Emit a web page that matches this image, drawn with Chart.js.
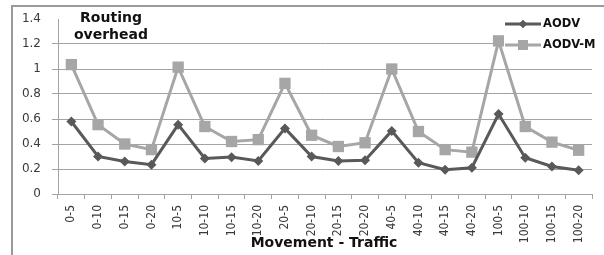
<!DOCTYPE html>
<html>
<head>
<meta charset="utf-8">
<script src="https://cdn.jsdelivr.net/npm/chart.js@4"></script>
<style>
  body { margin: 0; background: #fff; }
  canvas { display: block; }
</style>
</head>
<body>
<canvas id="grafico" width="604" height="255"></canvas>
<script>
// Categorias (Movement - Traffic)
const categorias = ['0-5', '0-10', '0-15', '0-20', '10-5', '10-10', '10-15', '10-20',
    '20-5', '20-10', '20-15', '20-20', '40-5', '40-10', '40-15', '40-20',
    '100-5', '100-10', '100-15', '100-20'];

const valoresAODV = [0.58, 0.30, 0.26, 0.235, 0.555, 0.285, 0.295, 0.265,
    0.525, 0.30, 0.265, 0.27, 0.505, 0.25, 0.195, 0.21,
    0.64, 0.29, 0.22, 0.19];

const valoresAODVM = [1.035, 0.555, 0.40, 0.355, 1.015, 0.54, 0.42, 0.435,
    0.885, 0.47, 0.38, 0.41, 1.0, 0.5, 0.355, 0.335,
    1.225, 0.54, 0.415, 0.35];

const ticksY = [0, 0.2, 0.4, 0.6, 0.8, 1, 1.2, 1.4];

const colorAODV = '#595959';
const colorAODVM = '#a6a6a6';
const colorGrid = '#a3a3a3';

// Textos y marco dibujados a mano (titulo de ejes, leyenda)
const extras = {
    id: 'extras',
    beforeDraw(chart) {
        const ctx = chart.ctx;
        ctx.save();
        ctx.strokeStyle = '#9a9a9a';
        ctx.lineWidth = 2;
        ctx.beginPath();
        ctx.moveTo(12, 255);
        ctx.lineTo(12, 6);
        ctx.lineTo(604, 6);
        ctx.stroke();
        ctx.restore();
    },
    afterDraw(chart) {
        const ctx = chart.ctx;
        ctx.save();
        ctx.fillStyle = '#111';
        ctx.font = 'bold 14px "DejaVu Sans"';
        ctx.textAlign = 'center';
        ctx.textBaseline = 'middle';
        ctx.fillText('Routing', 111, 18);
        ctx.fillText('overhead', 111, 35);
        ctx.fillText('Movement - Traffic', 324, 243);

        // leyenda
        ctx.fillStyle = '#fff';
        ctx.fillRect(504, 13, 100, 39);
        const items = [
            { texto: 'AODV', color: colorAODV, y: 24, estilo: 'rectRot', radio: 4 },
            { texto: 'AODV-M', color: colorAODVM, y: 45, estilo: 'rect', radio: 7 }
        ];
        items.forEach(it => {
            ctx.strokeStyle = it.color;
            ctx.lineWidth = 3;
            ctx.beginPath();
            ctx.moveTo(505, it.y);
            ctx.lineTo(541, it.y);
            ctx.stroke();
            ctx.fillStyle = it.color;
            Chart.helpers.drawPoint(ctx, { pointStyle: it.estilo, radius: it.radio, borderWidth: 0 }, 523, it.y);
            ctx.fill();
            ctx.fillStyle = '#111';
            ctx.textAlign = 'left';
            ctx.font = 'bold 11.5px "DejaVu Sans"';
            ctx.fillText(it.texto, 543, it.y);
        });
        ctx.restore();
    }
};

const fuenteTicksX = { family: '"Liberation Sans Narrow", "DejaVu Sans Condensed", sans-serif', size: 12 };

new Chart(document.getElementById('grafico').getContext('2d'), {
    type: 'line',
    data: {
        labels: categorias,
        datasets: [{
            label: 'AODV',
            data: valoresAODV,
            borderColor: colorAODV,
            backgroundColor: colorAODV,
            borderWidth: 3,
            pointStyle: 'rectRot',
            pointRadius: 5,
            pointBorderWidth: 0,
            tension: 0
        }, {
            label: 'AODV-M',
            data: valoresAODVM,
            borderColor: colorAODVM,
            backgroundColor: colorAODVM,
            borderWidth: 3,
            pointStyle: 'rect',
            pointRadius: 8,
            pointBorderWidth: 0,
            tension: 0
        }]
    },
    options: {
        responsive: false,
        animation: false,
        layout: { padding: { top: 19, right: 12, left: 0, bottom: 0 } },
        plugins: {
            legend: { display: false },
            tooltip: { enabled: false }
        },
        scales: {
            x: {
                offset: true,
                grid: { offset: true, drawOnChartArea: false, tickLength: 5, color: colorGrid },
                border: { color: colorGrid },
                ticks: {
                    minRotation: 90,
                    maxRotation: 90,
                    autoSkip: false,
                    padding: 6,
                    color: '#3a3a3a',
                    font: fuenteTicksX
                },
                afterFit: scale => { scale.height = 61; }
            },
            y: {
                min: 0,
                max: 1.4,
                afterBuildTicks: scale => { scale.ticks = ticksY.map(v => ({ value: v })); },
                ticks: {
                    padding: 11,
                    color: '#3a3a3a',
                    font: { family: '"DejaVu Sans"', size: 12 },
                    callback: v => String(Number(v.toFixed(1)))
                },
                grid: {
                    tickLength: 6,
                    color: c => (c.tick && c.tick.value >= 1.39) ? 'rgba(0,0,0,0)' : colorGrid
                },
                border: { color: colorGrid },
                afterFit: scale => { scale.width = 58; }
            }
        }
    },
    plugins: [extras]
});
</script>
</body>
</html>
